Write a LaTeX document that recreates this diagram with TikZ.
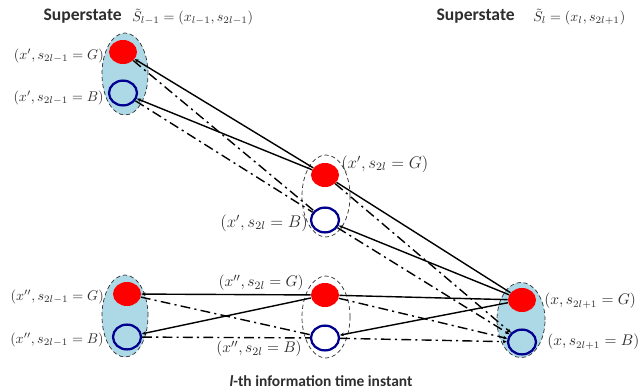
\documentclass[tikz,border=0pt]{standalone}
\usepackage{fontspec}
\newfontfamily\headfont{Carlito}
\usetikzlibrary{arrows.meta,shapes.geometric}
\definecolor{ink}{HTML}{2E2E2E}
\definecolor{cell}{HTML}{ADD8E6}
\definecolor{good}{HTML}{FF0000}
\definecolor{bad}{HTML}{000090}

\tikzset{
  cellbox/.style={ellipse,draw=ink,densely dashed,line width=.5pt,
    minimum width=1.2cm,minimum height=2.05cm,inner sep=0pt},
  gooddot/.style={ellipse,fill=good,minimum width=.7cm,
    minimum height=.6cm,inner sep=0pt},
  baddot/.style={ellipse,draw=bad,line width=1.6pt,minimum width=.7cm,
    minimum height=.62cm,inner sep=0pt},
  solidlink/.style={line width=1pt},
  dotlink/.style={line width=1pt,dash pattern=on 7pt off 3pt on 1.5pt off 3pt},
  lab/.style={text=ink,inner sep=0pt},
  head/.style={text=ink,inner sep=0pt,font=\headfont\bfseries\fontsize{12.5}{15}\selectfont}
}

\begin{document}
\begin{tikzpicture}[x=0.025cm,y=-0.025cm,>={Stealth[length=3pt,width=2.5pt]}]
  \useasboundingbox (0,0) rectangle (641,390);

  \node[head,anchor=east] (ttl) at (122,16) {Superstate};
  \node[lab,anchor=west] (ttlm) at (132,17) {$\tilde S_{l-1}=(x_{l-1},s_{2l-1})$};
  \node[head,anchor=east] (ttr) at (515,16) {Superstate};
  \node[lab,anchor=west] (ttrm) at (533,17) {$\tilde S_{l}=(x_{l},s_{2l+1})$};

  \node[cellbox,fill=cell,minimum width=1.15cm] (lt) at (125,74) {};
  \node[cellbox] (mt) at (326,196) {};
  \node[cellbox,fill=cell,minimum width=1.15cm] (lb) at (125,316) {};
  \node[cellbox] (mb) at (326,317) {};
  \node[cellbox,fill=cell,minimum height=1.88cm] (r) at (521,320) {};

  \node[gooddot] (ltG) at (123,52) {};
  \node[baddot]  (ltB) at (123,93) {};
  \node[gooddot] (mtG) at (325,175) {};
  \node[baddot]  (mtB) at (325,220) {};
  \node[gooddot] (lbG) at (127,294) {};
  \node[baddot]  (lbB) at (127,337) {};
  \node[gooddot] (mbG) at (325,295) {};
  \node[baddot]  (mbB) at (325,338) {};
  \node[gooddot] (rG) at (522,300) {};
  \node[baddot]  (rB) at (522,342) {};

  \node[lab,anchor=east] (ltGl) at (104,56) {$(x',s_{2l-1}=G)$};
  \node[lab,anchor=east] (ltBl) at (104,98) {$(x',s_{2l-1}=B)$};
  \node[lab,anchor=west,font=\large] (mtGl) at (341,164) {$(x',s_{2l}=G)$};
  \node[lab,anchor=east,font=\large] (mtBl) at (308,223) {$(x',s_{2l}=B)$};
  \node[lab,anchor=east] (lbGl) at (104,297) {$(x'',s_{2l-1}=G)$};
  \node[lab,anchor=east] (lbBl) at (104,340) {$(x'',s_{2l-1}=B)$};
  \node[lab,anchor=east,font=\fontsize{11}{13}\selectfont] (mbGl) at (304,283) {$(x'',s_{2l}=G)$};
  \node[lab,anchor=east,font=\fontsize{11}{13}\selectfont] (mbBl) at (302,349) {$(x'',s_{2l}=B)$};
  \node[lab,anchor=west,font=\fontsize{10.5}{12.5}\selectfont] (rGl) at (544,301) {$(x,s_{2l+1}=G)$};
  \node[lab,anchor=west,font=\fontsize{10.5}{12.5}\selectfont] (rBl) at (547,342) {$(x,s_{2l+1}=B)$};

  \foreach \a/\b in {lt/mt,lb/mb}{
    \draw[solidlink,<-] (\a G) -- (\b G);
    \draw[solidlink,<-] (\a B) -- (\b G);
    \draw[dotlink] (\a G) -- (\b B);
    \draw[dotlink] (\a B) -- (\b B);
    \draw[solidlink] (\b G) -- (rG);
    \draw[solidlink,<-] (\b B) -- (rG);
    \draw[dotlink,->] (\b G) -- (rB);
    \draw[dotlink,->] (\b B) -- (rB);
  }

  \node[head,font=\headfont\bfseries\fontsize{11}{13}\selectfont] (bot) at (321,381)
    {\textit{l}-th information time instant};
\end{tikzpicture}
\end{document}
